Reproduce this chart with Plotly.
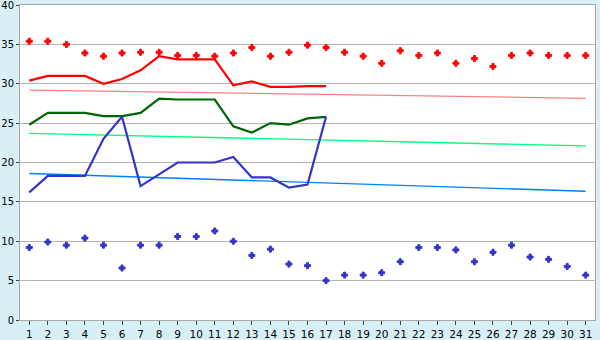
import plotly.graph_objects as go

days = list(range(1, 32))

max_pts = [35.4, 35.4, 35.0, 33.9, 33.5, 33.9, 34.0, 34.0, 33.6, 33.6,
           33.5, 33.9, 34.6, 33.5, 34.0, 34.9, 34.6, 34.0, 33.5, 32.6,
           34.2, 33.6, 33.9, 32.6, 33.2, 32.2, 33.6, 33.9, 33.6, 33.6, 33.6]
min_pts = [9.2, 9.9, 9.5, 10.4, 9.5, 6.6, 9.5, 9.5, 10.6, 10.6,
           11.3, 10.0, 8.2, 9.0, 7.1, 6.9, 5.0, 5.7, 5.7, 6.0,
           7.4, 9.2, 9.2, 8.9, 7.4, 8.6, 9.5, 8.0, 7.7, 6.8, 5.7]

line_days = list(range(1, 18))
red_line = [30.4, 31.0, 31.0, 31.0, 30.0, 30.6, 31.7, 33.5, 33.1, 33.1,
            33.1, 29.8, 30.3, 29.6, 29.6, 29.7, 29.7]
green_line = [24.8, 26.3, 26.3, 26.3, 25.9, 25.9, 26.3, 28.1, 28.0, 28.0,
              28.0, 24.6, 23.8, 25.0, 24.8, 25.6, 25.8]
blue_line = [16.2, 18.3, 18.3, 18.3, 23.0, 25.8, 17.0, 18.5, 20.0, 20.0,
             20.0, 20.7, 18.1, 18.1, 16.8, 17.2, 25.8]

trend_x = [1, 31]
red_trend = [29.2, 28.15]
green_trend = [23.7, 22.1]
blue_trend = [18.6, 16.35]

y_ticks = [0, 5, 10, 15, 20, 25, 30, 35, 40]

fig = go.Figure()

fig.add_trace(go.Scatter(x=trend_x, y=red_trend, mode="lines",
                         line=dict(color="#ff8080", width=1.3), hoverinfo="skip"))
fig.add_trace(go.Scatter(x=trend_x, y=green_trend, mode="lines",
                         line=dict(color="#00ff80", width=1.3), hoverinfo="skip"))
fig.add_trace(go.Scatter(x=trend_x, y=blue_trend, mode="lines",
                         line=dict(color="#0080ff", width=1.3), hoverinfo="skip"))

fig.add_trace(go.Scatter(x=line_days, y=red_line, mode="lines",
                         line=dict(color="#ff0000", width=2.2)))
fig.add_trace(go.Scatter(x=line_days, y=green_line, mode="lines",
                         line=dict(color="#006400", width=2.2)))
fig.add_trace(go.Scatter(x=line_days, y=blue_line, mode="lines",
                         line=dict(color="#3333cc", width=2.2)))

fig.add_trace(go.Scatter(x=days, y=max_pts, mode="markers",
                         marker=dict(symbol="cross", size=5, color="#ff0000",
                                     line=dict(width=1, color="#ff0000"))))
fig.add_trace(go.Scatter(x=days, y=min_pts, mode="markers",
                         marker=dict(symbol="cross", size=5, color="#3333cc",
                                     line=dict(width=1, color="#3333cc"))))

fig.update_layout(
    width=600, height=340,
    margin=dict(l=20, r=5, t=5, b=20),
    paper_bgcolor="#d9eff6",
    plot_bgcolor="#ffffff",
    showlegend=False,
    font=dict(family="DejaVu Sans", size=10, color="#000000"),
)
fig.update_xaxes(
    range=[0.5, 31.5], tickvals=days, ticktext=[str(d) for d in days],
    showgrid=False, zeroline=False, automargin=False,
    showline=True, linecolor="#a8a8a8", linewidth=1, mirror=True,
    ticks="outside", ticklen=4, tickcolor="#404040",
    ticklabeloverflow="allow",
    tickfont=dict(family="DejaVu Sans", size=10.5),
)
fig.update_yaxes(
    range=[0, 40], tickvals=y_ticks, ticktext=[str(v) for v in y_ticks],
    showgrid=True, gridcolor="#b4b4b4", gridwidth=1, zeroline=False,
    automargin=False,
    showline=True, linecolor="#a8a8a8", linewidth=1, mirror=True,
    ticks="outside", ticklen=3, tickcolor="#404040",
    ticklabeloverflow="allow",
    tickfont=dict(family="DejaVu Sans", size=10),
)

fig.write_html("out.html")
